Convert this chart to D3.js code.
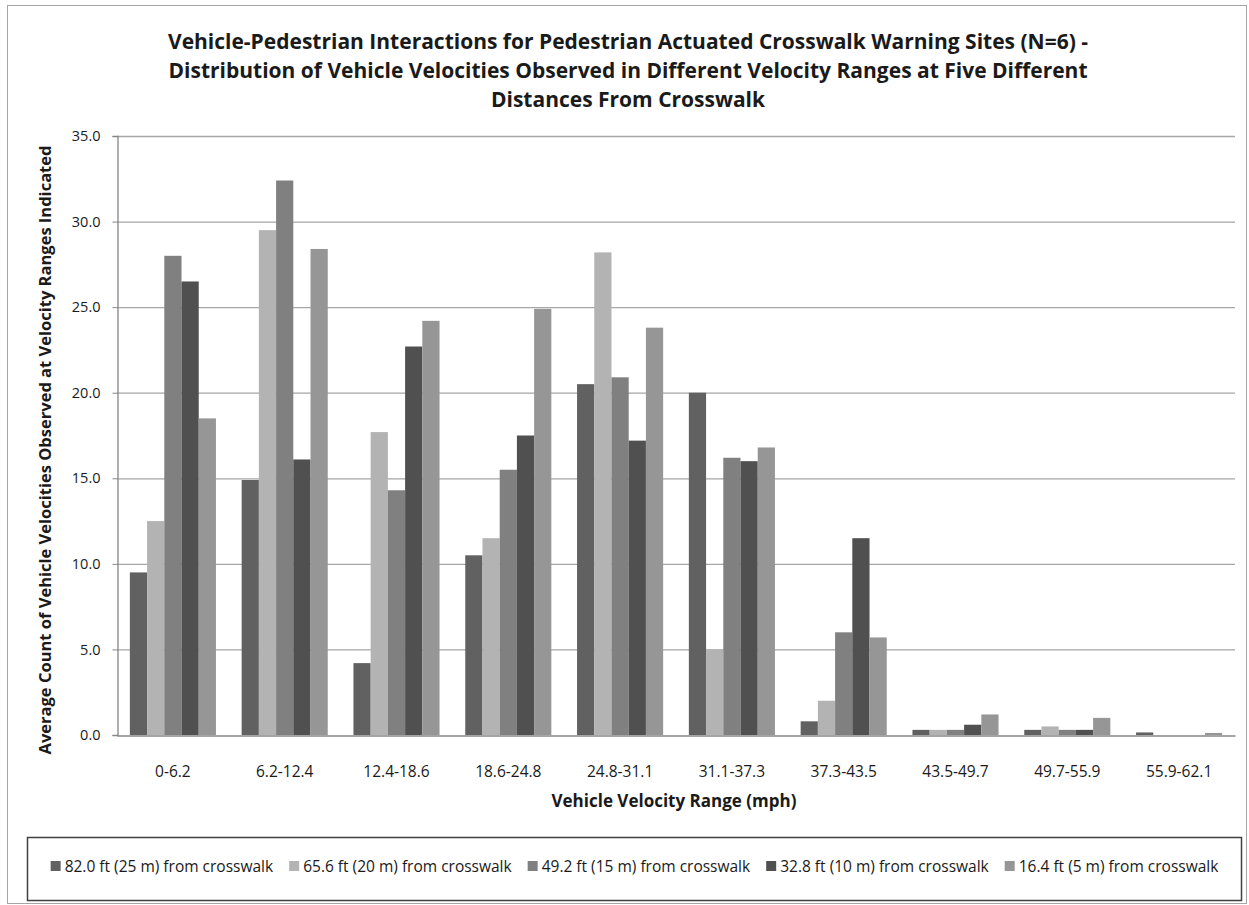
<!DOCTYPE html>
<html>
<head>
<meta charset="utf-8">
<script src="https://cdn.jsdelivr.net/npm/d3@7"></script>
<style>
  body { margin: 0; background: #fff; }
  svg text { font-family: "Open Sans", "Liberation Sans", sans-serif; fill: #1a1a1a; }
</style>
</head>
<body>
<div id="chart"></div>
<script>
// velocity ranges (mph)
const categories = ["0-6.2", "6.2-12.4", "12.4-18.6", "18.6-24.8", "24.8-31.1",
  "31.1-37.3", "37.3-43.5", "43.5-49.7", "49.7-55.9", "55.9-62.1"];

const seriesNames = [
  "82.0 ft (25 m) from crosswalk",
  "65.6 ft (20 m) from crosswalk",
  "49.2 ft (15 m) from crosswalk",
  "32.8 ft (10 m) from crosswalk",
  "16.4 ft (5 m) from crosswalk"
];

const dist25m = [9.5, 14.9, 4.2, 10.5, 20.5, 20.0, 0.8, 0.3, 0.3, 0.15];
const dist20m = [12.5, 29.5, 17.7, 11.5, 28.2, 5.0, 2.0, 0.3, 0.5, 0.0];
const dist15m = [28.0, 32.4, 14.3, 15.5, 20.9, 16.2, 6.0, 0.3, 0.3, 0.0];
const dist10m = [26.5, 16.1, 22.7, 17.5, 17.2, 16.0, 11.5, 0.6, 0.3, 0.0];
const dist5m = [18.5, 28.4, 24.2, 24.9, 23.8, 16.8, 5.7, 1.2, 1.0, 0.12];

const yTicks = [0, 5, 10, 15, 20, 25, 30, 35];
const colors = ["#616161", "#b3b3b3", "#808080", "#505050", "#969696"];

const seriesValues = [dist25m, dist20m, dist15m, dist10m, dist5m];

const W = 1249, H = 905;
const plot = { left: 117, right: 1235, top: 136, bottom: 735 };

const svg = d3.select("#chart").append("svg")
  .attr("width", W).attr("height", H);

// outer chart border
svg.append("rect")
  .attr("x", 7.5).attr("y", 5.5)
  .attr("width", W - 10).attr("height", H - 7)
  .attr("fill", "none").attr("stroke", "#a6a6a6");

// title
const titleLines = [
  "Vehicle-Pedestrian Interactions for Pedestrian Actuated Crosswalk Warning Sites (N=6) -",
  "Distribution of Vehicle Velocities Observed in Different Velocity Ranges at Five Different",
  "Distances From Crosswalk"
];
svg.append("g").selectAll("text")
  .data(titleLines)
  .join("text")
  .attr("x", 628)
  .attr("y", (d, i) => 49 + i * 29)
  .attr("text-anchor", "middle")
  .attr("font-size", 21)
  .attr("font-weight", "bold")
  .text(d => d);

// scales
const x0 = d3.scaleBand()
  .domain(categories)
  .range([plot.left, plot.right])
  .paddingInner(0.23)
  .paddingOuter(0.115);

const x1 = d3.scaleBand()
  .domain(d3.range(seriesNames.length))
  .range([0, x0.bandwidth()]);

const y = d3.scaleLinear().domain([0, 35]).range([plot.bottom, plot.top]);

// gridlines
svg.append("g").selectAll("line")
  .data(yTicks.filter(d => d > 0))
  .join("line")
  .attr("x1", plot.left).attr("x2", plot.right)
  .attr("y1", d => y(d) + 0.5).attr("y2", d => y(d) + 0.5)
  .attr("stroke", "#a6a6a6").attr("stroke-width", 1.3);

// y axis
const yAxis = svg.append("g")
  .attr("transform", `translate(${plot.left + 0.5},0)`)
  .call(d3.axisLeft(y).tickValues(yTicks).tickFormat(d3.format(".1f")).tickSize(5).tickPadding(12));
yAxis.select(".domain").attr("stroke", "#868686").attr("stroke-width", 1.3);
yAxis.selectAll(".tick line").attr("stroke", "#868686");
yAxis.selectAll(".tick text")
  .attr("font-size", 14.5).attr("fill", "#262626")
  .attr("font-family", "'Open Sans', 'Liberation Sans', sans-serif");

// bars
const groups = svg.append("g").selectAll("g")
  .data(categories)
  .join("g")
  .attr("transform", d => `translate(${x0(d)},0)`);

groups.selectAll("rect")
  .data((d, ci) => seriesValues.map((vals, si) => ({ si, v: vals[ci] })))
  .join("rect")
  .attr("x", d => x1(d.si))
  .attr("y", d => y(d.v))
  .attr("width", x1.bandwidth())
  .attr("height", d => y(0) - y(d.v))
  .attr("fill", d => colors[d.si]);

// x axis
const xAxis = svg.append("g")
  .attr("transform", `translate(0,${plot.bottom + 0.5})`)
  .call(d3.axisBottom(x0).tickSize(0).tickPadding(30));
xAxis.select(".domain").attr("stroke", "#868686").attr("stroke-width", 1.3);
xAxis.selectAll(".tick text")
  .attr("font-size", 15.5).attr("fill", "#262626")
  .attr("font-family", "'Open Sans', 'Liberation Sans', sans-serif");

// axis titles
svg.append("text")
  .attr("x", (plot.left + plot.right) / 2 - 2)
  .attr("y", 807)
  .attr("text-anchor", "middle")
  .attr("font-size", 17)
  .attr("font-weight", "bold")
  .text("Vehicle Velocity Range (mph)");

svg.append("text")
  .attr("transform", "translate(51,450) rotate(-90)")
  .attr("text-anchor", "middle")
  .attr("font-size", 16.5)
  .attr("font-weight", "bold")
  .text("Average Count of Vehicle Velocities Observed at Velocity Ranges Indicated");

// legend
const legendBox = { x: 27.5, y: 837.5, w: 1214, h: 63 };
svg.append("rect")
  .attr("x", legendBox.x).attr("y", legendBox.y)
  .attr("width", legendBox.w).attr("height", legendBox.h)
  .attr("fill", "#fff").attr("stroke", "#404040").attr("stroke-width", 1.5);

const legend = svg.append("g");
const items = legend.selectAll("g")
  .data(seriesNames)
  .join("g");
items.append("rect")
  .attr("y", 861).attr("width", 10).attr("height", 10)
  .attr("fill", (d, i) => colors[i]);
items.append("text")
  .attr("x", 14).attr("y", 872)
  .attr("font-size", 15.5)
  .text(d => d);

// lay items out left to right, centred in the box
const gap = 16;
const widths = items.nodes().map(n => 14 + n.querySelector("text").getComputedTextLength());
const total = d3.sum(widths) + gap * (widths.length - 1);
let cx = legendBox.x + (legendBox.w - total) / 2;
items.attr("transform", (d, i) => {
  const t = `translate(${cx},0)`;
  cx += widths[i] + gap;
  return t;
});
</script>
</body>
</html>
